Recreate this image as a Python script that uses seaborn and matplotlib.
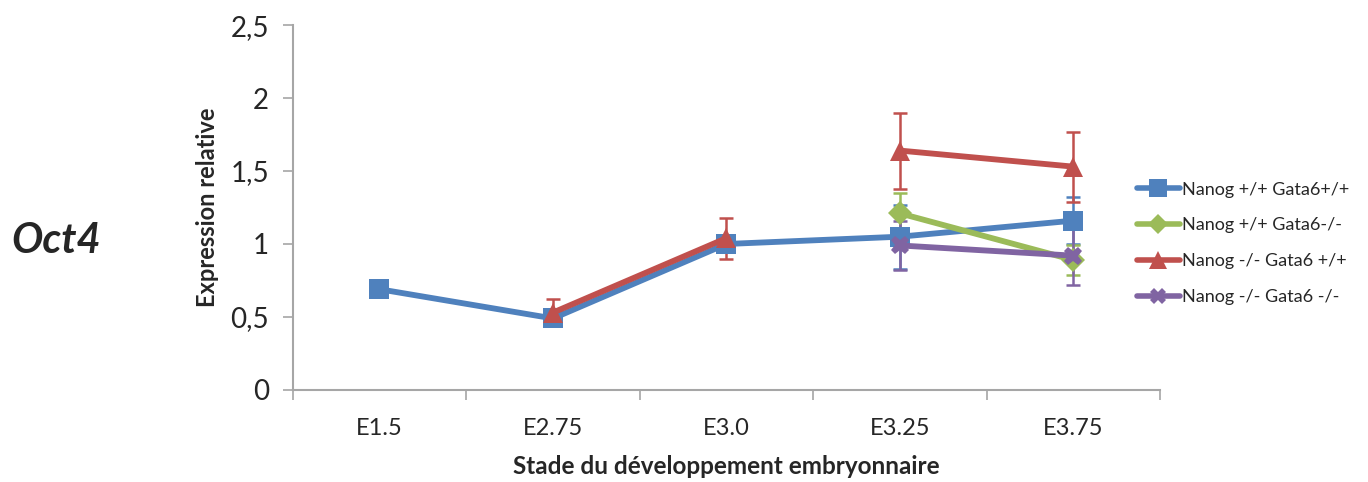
import numpy as np
import pandas as pd
import matplotlib
matplotlib.use("Agg")
import matplotlib.pyplot as plt
import seaborn as sns

# stades et series
stades = ["E1.5", "E2.75", "E3.0", "E3.25", "E3.75"]
series = ["Nanog +/+ Gata6+/+", "Nanog +/+ Gata6-/-", "Nanog -/- Gata6 +/+", "Nanog -/- Gata6 -/-"]

wt_val = [0.69, 0.49, 1.00, 1.05, 1.16]
wt_err = [0.0, 0.03, 0.05, 0.22, 0.16]
gata_val = [np.nan, np.nan, np.nan, 1.21, 0.89]
gata_err = [0, 0, 0, 0.14, 0.10]
nanog_val = [np.nan, 0.53, 1.04, 1.64, 1.53]
nanog_err = [0, 0.09, 0.14, 0.26, 0.24]
dko_val = [np.nan, np.nan, np.nan, 0.99, 0.92]
dko_err = [0, 0, 0, 0.17, 0.20]

# segments (la courbe rouge est coupée entre E3.0 et E3.25)
wt_seg = [0, 0, 0, 0, 0]
gata_seg = [0, 0, 0, 0, 0]
nanog_seg = [0, 0, 0, 1, 1]
dko_seg = [0, 0, 0, 0, 0]

couleurs = ["#4f81bd", "#9bbb59", "#c0504d", "#8064a2"]
marqueurs = ["s", "D", "^", "X"]
tailles = [15, 12, 15, 13]

valeurs = [wt_val, gata_val, nanog_val, dko_val]
erreurs = [wt_err, gata_err, nanog_err, dko_err]
segments = [wt_seg, gata_seg, nanog_seg, dko_seg]

lignes = []
for s, v, e, g in zip(series, valeurs, erreurs, segments):
    for i in range(len(stades)):
        lignes.append({"serie": s, "x": i, "val": v[i], "err": e[i], "seg": g[i]})
df = pd.DataFrame(lignes).dropna(subset=["val"])

sns.set_style("white")
plt.rcParams["font.family"] = ["Lato", "DejaVu Sans"]

fig = plt.figure(figsize=(13.68, 4.82), dpi=100)
ax = fig.add_axes([0.214, 0.191, 0.634, 0.757])

# barres d'erreur
for s, c in zip(series, couleurs):
    d = df[(df.serie == s) & (df.err > 0)]
    ax.errorbar(d.x, d.val, yerr=d.err, fmt="none", ecolor=c, elinewidth=1.8,
                capsize=5, capthick=1.8, zorder=2)

# une courbe par serie pour regler la taille des marqueurs
for s, c, m, t in zip(series, couleurs, marqueurs, tailles):
    d = df[df.serie == s]
    sns.lineplot(data=d, x="x", y="val", units="seg", estimator=None, color=c,
                 marker=m, markersize=t, markeredgewidth=0, linewidth=4.2,
                 ax=ax, legend=False, zorder=3)

ax.set_xlim(-0.5, 4.5)
ax.set_ylim(0, 2.5)
ax.set_xticks(range(len(stades)))
ax.set_xticklabels(stades, fontsize=17)
ax.set_xticks(np.arange(-0.5, 5, 1), minor=True)
ax.tick_params(axis="x", which="minor", length=7, color="#a6a6a6", direction="out", width=1.2)
ax.set_yticks([0, 0.5, 1, 1.5, 2, 2.5])
ax.set_yticklabels(["0", "0,5", "1", "1,5", "2", "2,5"], fontsize=20)
ax.tick_params(axis="y", length=7, color="#a6a6a6", direction="out", width=1.2, pad=10)
ax.tick_params(bottom=True, left=True, which="both")
ax.tick_params(axis="x", which="major", bottom=False, length=0, pad=20)

sns.despine(ax=ax)
for sp in ["left", "bottom"]:
    ax.spines[sp].set_color("#a6a6a6")
    ax.spines[sp].set_linewidth(1.5)

ax.set_xlabel("Stade du développement embryonnaire", fontsize=17.5, fontweight="bold", labelpad=12)
ax.set_ylabel("Expression relative", fontsize=17, fontweight="bold", labelpad=8)

# legende
poignees = [plt.Line2D([], [], color=c, marker=m, linewidth=4, markersize=t - 2, markeredgewidth=0)
            for c, m, t in zip(couleurs, marqueurs, tailles)]
fig.legend(poignees, series, loc="center left", bbox_to_anchor=(0.831, 0.495), frameon=False,
           fontsize=13, handlelength=2.4, handletextpad=0.1, labelspacing=1.1, borderpad=0,
           borderaxespad=0)

fig.text(0.008, 0.5, "Oct4", fontsize=30, fontweight="bold", fontstyle="italic", va="center")

fig.savefig("out.png", dpi=100)
